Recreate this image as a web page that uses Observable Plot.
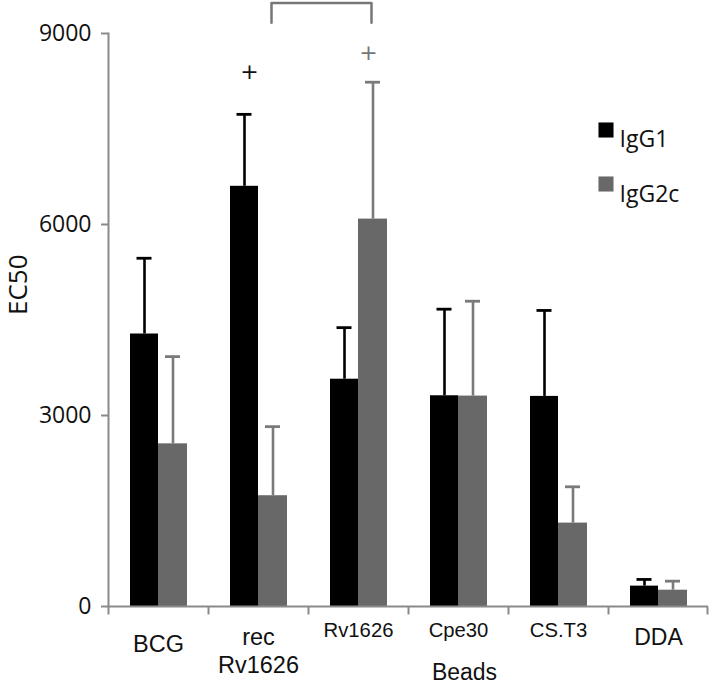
<!DOCTYPE html>
<html>
<head>
<meta charset="utf-8">
<script src="https://cdn.jsdelivr.net/npm/d3@7"></script>
<script src="https://cdn.jsdelivr.net/npm/@observablehq/plot@0.6"></script>
<style>
  html, body { margin: 0; padding: 0; background: #fff; }
  #chart svg { display: block; }
</style>
</head>
<body>
<div id="chart"></div>
<script>
// ---- data ----
const categories = ["BCG", "rec\nRv1626", "Rv1626", "Cpe30", "CS.T3", "DDA"];
const series = ["IgG1", "IgG2c"];
const igg1 = [4280, 6600, 3570, 3310, 3300, 320];
const igg1Err = [1190, 1130, 810, 1360, 1350, 105];
const igg2c = [2555, 1740, 6085, 3305, 1310, 256];
const igg2cErr = [1370, 1085, 2150, 1490, 570, 142];
const yTicks = [0, 3000, 6000, 9000];
// significance annotations
const plusMarks = [
  {cat: "rec\nRv1626", series: "IgG1", y: 8390},
  {cat: "Rv1626", series: "IgG2c", y: 8700}
];
const bracket = [
  {cat: "rec\nRv1626", y: 9170},
  {cat: "rec\nRv1626", y: 9480},
  {cat: "Rv1626", y: 9480},
  {cat: "Rv1626", y: 9170}
];

const rows1 = categories.map((c, i) => ({cat: c, v: igg1[i], e: igg1[i] + igg1Err[i]}));
const rows2 = categories.map((c, i) => ({cat: c, v: igg2c[i], e: igg2c[i] + igg2cErr[i]}));

const BLACK = "#000000";
const GRAY = "#686868";
const EGRAY = "#7a7a7a";
const AXIS = "#8a8a8a";
const ARIAL = "'Liberation Sans', Arial, sans-serif";

const tickSymbol = {draw(ctx) { ctx.moveTo(0, 0); ctx.lineTo(0, 8); }};

const bigLabels = ["BCG"];
const twoLine = ["rec\nRv1626"];
const smallLabels = ["Rv1626", "Cpe30", "CS.T3"];
const ddaLabel = ["DDA"];

const chart = Plot.plot({
  width: 709,
  height: 687,
  marginLeft: 108,
  marginRight: 1,
  marginTop: 33,
  marginBottom: 81,
  style: {background: "#fff", fontFamily: "'Open Sans', sans-serif", overflow: "visible"},
  x: {domain: categories, padding: 0, axis: null},
  y: {domain: [0, 9000], axis: null},
  marks: [
    // bars
    Plot.barY(rows1, {x: "cat", y: "v", fill: BLACK, insetLeft: 22, insetRight: 50}),
    Plot.barY(rows2, {x: "cat", y: "v", fill: GRAY, insetLeft: 50, insetRight: 21}),
    // error bars
    Plot.ruleX(rows1, {x: "cat", y1: "v", y2: "e", dx: -14, stroke: BLACK, strokeWidth: 2.6}),
    Plot.tickY(rows1, {x: "cat", y: "e", insetLeft: 28.5, insetRight: 56.5, stroke: BLACK, strokeWidth: 2.8}),
    Plot.ruleX(rows2, {x: "cat", y1: "v", y2: "e", dx: 14.5, stroke: EGRAY, strokeWidth: 2.6}),
    Plot.tickY(rows2, {x: "cat", y: "e", insetLeft: 57, insetRight: 28, stroke: EGRAY, strokeWidth: 2.8}),
    // y axis
    Plot.frame({anchor: "left", stroke: AXIS, strokeWidth: 2}),
    Plot.axisY({ticks: yTicks, tickSize: 7, tickPadding: 10, fontSize: 23, stroke: AXIS, strokeWidth: 2, color: "#111", tickFormat: d => String(d), label: null}),
    // x axis line and boundary ticks
    Plot.ruleY([0], {stroke: AXIS, strokeWidth: 2}),
    Plot.dot(categories, {x: d => d, y: 0, dx: -50, symbol: tickSymbol, stroke: AXIS, strokeWidth: 2, fill: "none"}),
    Plot.dot(categories.slice(-1), {x: d => d, y: 0, dx: 49, symbol: tickSymbol, stroke: AXIS, strokeWidth: 2, fill: "none"}),
    // x tick labels
    Plot.text(bigLabels, {x: d => d, text: d => d, frameAnchor: "bottom", lineAnchor: "top", dy: 28.5, fontSize: 23.5, fontFamily: ARIAL, fill: "#111"}),
    Plot.text(twoLine, {x: d => d, text: d => d, frameAnchor: "bottom", lineAnchor: "top", dy: 18.5, lineHeight: 1.2, fontSize: 23.5, fontFamily: ARIAL, fill: "#111"}),
    Plot.text(smallLabels, {x: d => d, text: d => d, frameAnchor: "bottom", lineAnchor: "top", dy: 16.5, fontSize: 20.3, fontFamily: ARIAL, fill: "#111"}),
    Plot.text(ddaLabel, {x: d => d, text: d => d, frameAnchor: "bottom", lineAnchor: "top", dy: 22, fontSize: 23, fontFamily: ARIAL, fill: "#111"}),
    // axis titles
    Plot.text(["Beads"], {x: null, text: d => d, frameAnchor: "bottom", lineAnchor: "top", dx: 56, dy: 57.5, fontSize: 23, fontFamily: ARIAL, fill: "#111"}),
    Plot.text(["EC50"], {x: null, text: d => d, frameAnchor: "left", rotate: -90, dx: -89.5, dy: -5, fontSize: 26, fill: "#111"}),
    // significance markers
    Plot.text(plusMarks.filter(d => d.series === "IgG1"), {x: "cat", y: "y", text: () => "+", dx: -9, fontSize: 22, fill: "#111", fontFamily: "'DejaVu Sans', sans-serif"}),
    Plot.text(plusMarks.filter(d => d.series === "IgG2c"), {x: "cat", y: "y", text: () => "+", dx: 10, fontSize: 22, fill: "#777", fontFamily: "'DejaVu Sans', sans-serif"}),
    Plot.line(bracket, {x: "cat", y: "y", dx: 13, stroke: "#777", strokeWidth: 2.5, strokeLinejoin: "round", curve: "linear"}),
    // legend
    Plot.dot([series[0]], {x: null, frameAnchor: "top-right", dx: -102.5, dy: 96.5, symbol: "square", r: 8.5, fill: BLACK, stroke: "none"}),
    Plot.dot([series[1]], {x: null, frameAnchor: "top-right", dx: -102.5, dy: 150.5, symbol: "square", r: 8.5, fill: GRAY, stroke: "none"}),
    Plot.text([series[0]], {x: null, text: d => d, frameAnchor: "top-right", textAnchor: "start", dx: -89, dy: 97.3, fontSize: 23, fill: "#111"}),
    Plot.text([series[1]], {x: null, text: d => d, frameAnchor: "top-right", textAnchor: "start", dx: -89, dy: 152.6, fontSize: 23, fill: "#111"})
  ]
});
document.getElementById("chart").appendChild(chart);
</script>
</body>
</html>
